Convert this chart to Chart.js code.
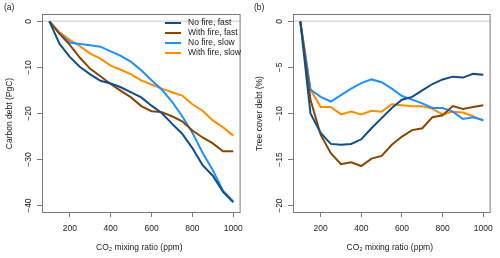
<!DOCTYPE html>
<html>
<head>
<meta charset="utf-8">
<script src="https://cdn.jsdelivr.net/npm/chart.js@4.4.1/dist/chart.umd.min.js"></script>
<style>
  html, body { margin: 0; padding: 0; background: #fff; }
  #wrap { position: relative; width: 500px; height: 258px; }
  canvas { position: absolute; top: 0; }
</style>
</head>
<body>
<div id="wrap">
  <canvas id="chartA" width="250" height="258" style="left:0"></canvas>
  <canvas id="chartB" width="250" height="258" style="left:250px"></canvas>
</div>
<script>
  // ── Data ────────────────────────────────────────────────────────
  const co2 = [100, 150, 200, 250, 300, 350, 400, 450, 500, 550, 600, 650, 700, 750, 800, 850, 900, 950, 1000];
  const seriesLabels = ['No fire, fast', 'With fire, fast', 'No fire, slow', 'With fire, slow'];
  const xTicks = [200, 400, 600, 800, 1000];

  // (a) carbon debt, PgC
  const carbonNoFireFast   = [0, -4.9, -7.7, -9.9, -11.5, -12.9, -13.5, -14.3, -15.4, -16.5, -18.3, -19.9, -22.2, -24.4, -27.5, -31.2, -33.5, -37.0, -39.3];
  const carbonWithFireFast = [0, -2.7, -5.1, -7.9, -10.3, -11.9, -13.6, -15.1, -16.5, -18.4, -19.5, -19.7, -20.6, -21.7, -23.7, -25.2, -26.5, -28.2, -28.2];
  const carbonNoFireSlow   = [0, -2.6, -4.6, -4.9, -5.2, -5.5, -6.5, -7.5, -8.8, -10.6, -12.8, -14.8, -17.4, -20.6, -24.2, -28.5, -32.3, -36.8, -39.1];
  const carbonWithFireSlow = [0, -2.4, -4.0, -5.4, -7.0, -8.1, -9.6, -10.5, -11.5, -12.8, -13.7, -14.6, -15.4, -16.1, -18.0, -19.4, -21.5, -23.0, -24.8];
  const carbonTicks = [0, -10, -20, -30, -40];

  // (b) tree cover debt, %
  const treeNoFireFast   = [0, -10.0, -12.1, -13.3, -13.4, -13.3, -12.8, -11.6, -10.5, -9.4, -8.5, -8.2, -7.5, -6.8, -6.3, -6.0, -6.1, -5.7, -5.8];
  const treeWithFireFast = [0, -8.5, -12.3, -14.3, -15.5, -15.3, -15.7, -14.9, -14.6, -13.4, -12.5, -11.8, -11.6, -10.4, -10.2, -9.2, -9.5, -9.3, -9.1];
  const treeNoFireSlow   = [0, -7.4, -8.2, -8.7, -8.0, -7.3, -6.7, -6.3, -6.6, -7.3, -8.1, -8.5, -8.9, -9.4, -9.4, -9.8, -10.6, -10.4, -10.7];
  const treeWithFireSlow = [0, -7.4, -9.3, -9.3, -10.1, -9.8, -10.1, -9.7, -9.8, -9.0, -9.1, -9.2, -9.2, -9.5, -10.1, -9.8, -9.9, -10.3, -10.8];
  const treeTicks = [0, -5, -10, -15, -20];

  // ── Style tokens ────────────────────────────────────────────────
  const COLORS = ['#104E8B', '#8B4500', '#1E90FF', '#FF8C00'];
  const BOX = '#7a7a7a';
  const TEXT = '#222';
  const FONT = "'Liberation Sans', Arial, sans-serif";
  const FS = 8.5;

  const toPoints = arr => arr.map((v, i) => ({ x: co2[i], y: v }));

  // Box, zero line, rotated y labels, titles, legend — R base-graphics look
  const rStyle = {
    id: 'rStyle',
    beforeDatasetsDraw(chart, args, opts) {
      const { ctx, chartArea: a, scales } = chart;
      const y0 = scales.y.getPixelForValue(0);
      ctx.save();
      ctx.strokeStyle = '#e2e2e2';
      ctx.lineWidth = 2;
      ctx.beginPath();
      ctx.moveTo(a.left, y0);
      ctx.lineTo(a.right, y0);
      ctx.stroke();
      ctx.restore();
    },
    afterDraw(chart, args, opts) {
      const { ctx, chartArea: a, scales } = chart;
      ctx.save();
      // box
      ctx.strokeStyle = BOX;
      ctx.lineWidth = 1;
      ctx.strokeRect(a.left + 0.5, a.top + 0.5, a.width - 1, a.height - 1);

      ctx.fillStyle = TEXT;
      ctx.font = FS + 'px ' + FONT;
      ctx.textAlign = 'center';
      ctx.textBaseline = 'middle';

      // y tick labels, parallel to the axis
      opts.yTicks.forEach(v => {
        const py = scales.y.getPixelForValue(v);
        ctx.save();
        ctx.translate(a.left - 13, py);
        ctx.rotate(-Math.PI / 2);
        ctx.fillText(v === 0 ? '0' : '\u2212' + Math.abs(v), 0, 0);
        ctx.restore();
      });

      // y title
      ctx.save();
      ctx.translate(10, (a.top + a.bottom) / 2);
      ctx.rotate(-Math.PI / 2);
      ctx.fillText(opts.yTitle, 0, 0);
      ctx.restore();

      // x title
      ctx.fillText('CO\u2082 mixing ratio (ppm)', (a.left + a.right) / 2 - 2, 248);

      // panel tag
      ctx.textAlign = 'left';
      ctx.fillText(opts.tag, 4, 8);

      // legend
      if (opts.legend) {
        chart.data.datasets.forEach((ds, i) => {
          const ly = 23 + i * 10;
          ctx.strokeStyle = ds.borderColor;
          ctx.lineWidth = 2;
          ctx.beginPath();
          ctx.moveTo(165, ly);
          ctx.lineTo(181, ly);
          ctx.stroke();
          ctx.fillText(ds.label, 188, ly);
        });
      }
      ctx.restore();
    }
  };

  function makePanel(canvasId, seriesList, yMin, yMax, yTicks, yTitle, tag, legend, padLeft) {
    const datasets = seriesList.map((s, i) => ({
      label: seriesLabels[i],
      data: toPoints(s),
      borderColor: COLORS[i],
      borderWidth: 2,
      pointRadius: 0,
      tension: 0,
      fill: false
    }));

    return new Chart(document.getElementById(canvasId), {
      type: 'line',
      data: { datasets },
      plugins: [rStyle],
      options: {
        responsive: false,
        animation: false,
        layout: { padding: { top: 14, right: 250 - 200 - 42 - padLeft, left: padLeft, bottom: 0 } },
        plugins: {
          legend: { display: false },
          tooltip: { enabled: false },
          rStyle: { yTicks, yTitle, tag, legend }
        },
        scales: {
          x: {
            type: 'linear',
            min: 64,
            max: 1036,
            afterBuildTicks: sc => { sc.ticks = xTicks.map(v => ({ value: v })); },
            afterFit: sc => { sc.height = 45; },
            grid: { drawOnChartArea: false, drawTicks: true, tickLength: 4, color: BOX },
            border: { display: false },
            ticks: {
              color: TEXT,
              font: { size: FS, family: FONT },
              padding: 7,
              maxRotation: 0,
              callback: v => String(v)
            }
          },
          y: {
            min: yMin,
            max: yMax,
            afterBuildTicks: sc => { sc.ticks = yTicks.map(v => ({ value: v })); },
            afterFit: sc => { sc.width = 42; },
            grid: { drawOnChartArea: false, drawTicks: true, tickLength: 5, color: BOX },
            border: { display: false },
            ticks: { display: false }
          }
        }
      }
    });
  }

  makePanel('chartA',
    [carbonNoFireFast, carbonWithFireFast, carbonNoFireSlow, carbonWithFireSlow],
    -41.6, 1.6, carbonTicks, 'Carbon debt (PgC)', '(a)', true, 0);

  makePanel('chartB',
    [treeNoFireFast, treeWithFireFast, treeNoFireSlow, treeWithFireSlow],
    -20.8, 0.8, treeTicks, 'Tree cover debt (%)', '(b)', false, 1);
</script>
</body>
</html>
